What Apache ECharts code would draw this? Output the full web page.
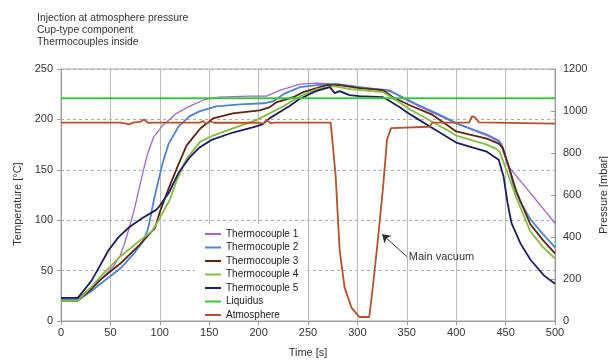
<!DOCTYPE html>
<html>
<head>
<meta charset="utf-8">
<script src="https://cdn.jsdelivr.net/npm/echarts@6/dist/echarts.min.js"></script>
<style>
  html, body { margin: 0; padding: 0; background: #fff; }
  #chart { width: 608px; height: 362px; }
</style>
</head>
<body>
<div id="chart"></div>
<script>
// [time s, temperature °C]
const tc1 = [[0,22],[17,22],[30,33],[40,41],[53,54],[60,65],[64,76],[69,92],[75,114],[79,131],[84,152],[88,167],[94,183],[103,194],[117,206],[130,213],[146,220],[160,222],[190,223],[208,223],[222,229],[242,235],[259,236],[282,235],[302,232],[333,229],[346,221],[360,214],[380,205],[400,196],[431,184],[443,178],[446,172],[453,153],[460,145],[470,133],[480,121],[490,109],[500,97]];
const tc2 = [[0,21],[17,21],[30,29],[40,37],[60,52],[73,66],[83,79],[88,91],[91,105],[94,120],[99,141],[103,157],[109,176],[119,193],[130,203],[140,208],[157,213],[181,215],[205,216],[215,218],[225,225],[242,232],[259,234],[278,235],[302,232],[333,228],[346,222],[360,215],[380,206],[395,199],[400,196],[431,185],[443,179],[446,175],[453,153],[458,135],[465,118],[475,101],[488,86],[500,73]];
const tc3 = [[0,20],[17,20],[30,31],[40,41],[60,57],[80,76],[90,87],[95,92],[100,108],[106,124],[110,134],[117,151],[127,174],[141,191],[154,201],[174,206],[201,209],[211,212],[218,217],[235,222],[245,227],[269,234],[282,234],[302,231],[326,229],[336,222],[353,214],[375,205],[390,195],[400,188],[431,181],[443,176],[447,172],[453,154],[461,128],[475,96],[488,80],[500,67]];
const tc4 = [[0,20],[17,20],[30,33],[40,44],[60,64],[80,80],[92,89],[100,102],[110,120],[117,139],[127,161],[141,178],[154,184],[174,191],[197,199],[211,206],[225,213],[242,223],[259,230],[276,233],[293,230],[326,227],[333,223],[353,210],[375,198],[390,190],[400,184],[431,175],[440,171],[444,168],[451,149],[461,122],[475,89],[488,73],[500,62]];
const tc5 = [[0,23],[17,23],[31,40],[48,70],[58,83],[69,93],[82,102],[96,110],[99,113],[109,127],[119,147],[130,162],[140,172],[153,180],[174,187],[194,192],[204,195],[211,201],[221,207],[231,213],[241,220],[258,228],[272,232],[277,226],[282,228],[292,224],[302,223],[326,222],[333,218],[343,212],[350,207],[360,201],[375,192],[390,183],[400,177],[417,172],[431,168],[443,160],[448,143],[452,117],[456,97],[465,77],[475,61],[489,45],[500,37]];
const liquidus = [[0,221],[500,221]];
// [time s, pressure mbar]
const atmosphere = [[0,945],[60,945],[66,940],[69,936],[74,946],[80,948],[84,960],[88,944],[95,945],[140,945],[144,952],[147,938],[151,950],[155,944],[200,945],[205,940],[208,958],[212,942],[216,945],[273,945],[278,690],[282,340],[287,160],[294,64],[302,19],[312,19],[316,177],[321,400],[326,640],[330,864],[334,918],[373,925],[376,945],[413,945],[416,975],[419,970],[423,946],[500,940]];

const xTicks = { min: 0, max: 500, step: 50 };
const tempTicks = { min: 0, max: 250, step: 50 };
const pressTicks = { min: 0, max: 1200, step: 200 };

// annotation: arrow tail / head in (s, °C)
const arrowTail = [350, 64];
const arrowHead = [325, 86];

const chart = echarts.init(document.getElementById('chart'));
const font = 'Liberation Sans, Arial, sans-serif';

function line(name, data, color, width, extra) {
  return Object.assign({
    name: name,
    type: 'line',
    data: data,
    showSymbol: false,
    symbol: 'none',
    lineStyle: { color: color, width: width },
    itemStyle: { color: color },
    animation: false
  }, extra || {});
}

const plain = v => String(v);

chart.setOption({
  textStyle: { fontFamily: font },
  title: {
    text: 'Injection at atmosphere pressure\nCup-type component\nThermocouples inside',
    left: 37, top: 12, padding: 0,
    textStyle: { fontSize: 10.4, fontWeight: 'normal', color: '#333', lineHeight: 12, fontFamily: font }
  },
  grid: { left: 61, right: 53, top: 69, bottom: 41, show: true, borderColor: '#aaa', borderWidth: 1, outerBoundsMode: 'none', containLabel: false },
  legend: {
    orient: 'vertical',
    left: 195, top: 224,
    padding: [5, 8, 0, 10],
    backgroundColor: '#fff',
    itemWidth: 16, itemHeight: 2, itemGap: 3.5,
    icon: 'rect',
    textStyle: { fontSize: 10, color: '#222', fontFamily: font },
    data: ['Thermocouple 1','Thermocouple 2','Thermocouple 3','Thermocouple 4','Thermocouple 5','Liquidus','Atmosphere']
  },
  xAxis: {
    type: 'value', min: xTicks.min, max: xTicks.max, interval: xTicks.step,
    name: 'Time [s]', nameLocation: 'middle', nameGap: 26,
    nameTextStyle: { fontSize: 11, color: '#333' },
    axisLine: { lineStyle: { color: '#999' } },
    axisTick: { show: true, length: 4, lineStyle: { color: '#999' } },
    axisLabel: { fontSize: 11, color: '#333', margin: 6, formatter: plain },
    splitLine: { show: true, lineStyle: { color: '#bbb', width: 1 } }
  },
  yAxis: [{
    type: 'value', min: tempTicks.min, max: tempTicks.max, interval: tempTicks.step,
    name: 'Temperature [°C]', nameLocation: 'middle', nameGap: 38,
    nameTextStyle: { fontSize: 11, color: '#333', padding: [0, 0, 0, -18] },
    axisLine: { show: true, lineStyle: { color: '#999' } },
    axisTick: { show: true, length: 4, lineStyle: { color: '#999' } },
    axisLabel: { fontSize: 11, color: '#333', margin: 8, formatter: plain },
    splitLine: { show: true, lineStyle: { color: '#aaa', type: [3, 3], width: 1 } }
  }, {
    type: 'value', min: pressTicks.min, max: pressTicks.max, interval: pressTicks.step,
    name: 'Pressure [mbar]', nameLocation: 'middle', nameGap: 34, nameRotate: 90,
    nameTextStyle: { fontSize: 11, color: '#333' },
    axisLine: { show: true, lineStyle: { color: '#999' } },
    axisTick: { show: true, inside: true, length: 4, lineStyle: { color: '#999' } },
    axisLabel: { fontSize: 11, color: '#333', margin: 8, formatter: plain },
    splitLine: { show: false }
  }],
  series: [
    line('Thermocouple 1', tc1, '#a466c8', 1.3),
    line('Thermocouple 2', tc2, '#4f84cf', 1.8),
    line('Thermocouple 3', tc3, '#5a2612', 1.8),
    line('Thermocouple 4', tc4, '#86bb45', 1.8),
    line('Thermocouple 5', tc5, '#1d1f5c', 1.8),
    line('Liquidus', liquidus, '#3ec43e', 2, {
      markLine: {
        silent: true, animation: false,
        symbol: ['none', 'arrow'], symbolSize: 8,
        lineStyle: { color: '#333', width: 1, type: 'solid' },
        label: { show: false },
        data: [[{ coord: arrowTail }, { coord: arrowHead }]]
      },
      markPoint: {
        silent: true, animation: false,
        symbol: 'circle', symbolSize: 0,
        label: { show: true, position: 'right', distance: 2, formatter: 'Main vacuum', fontSize: 11, color: '#333' },
        data: [{ coord: arrowTail }]
      }
    }),
    line('Atmosphere', atmosphere, '#b4532b', 1.8, { yAxisIndex: 1 })
  ]
});
</script>
</body>
</html>
